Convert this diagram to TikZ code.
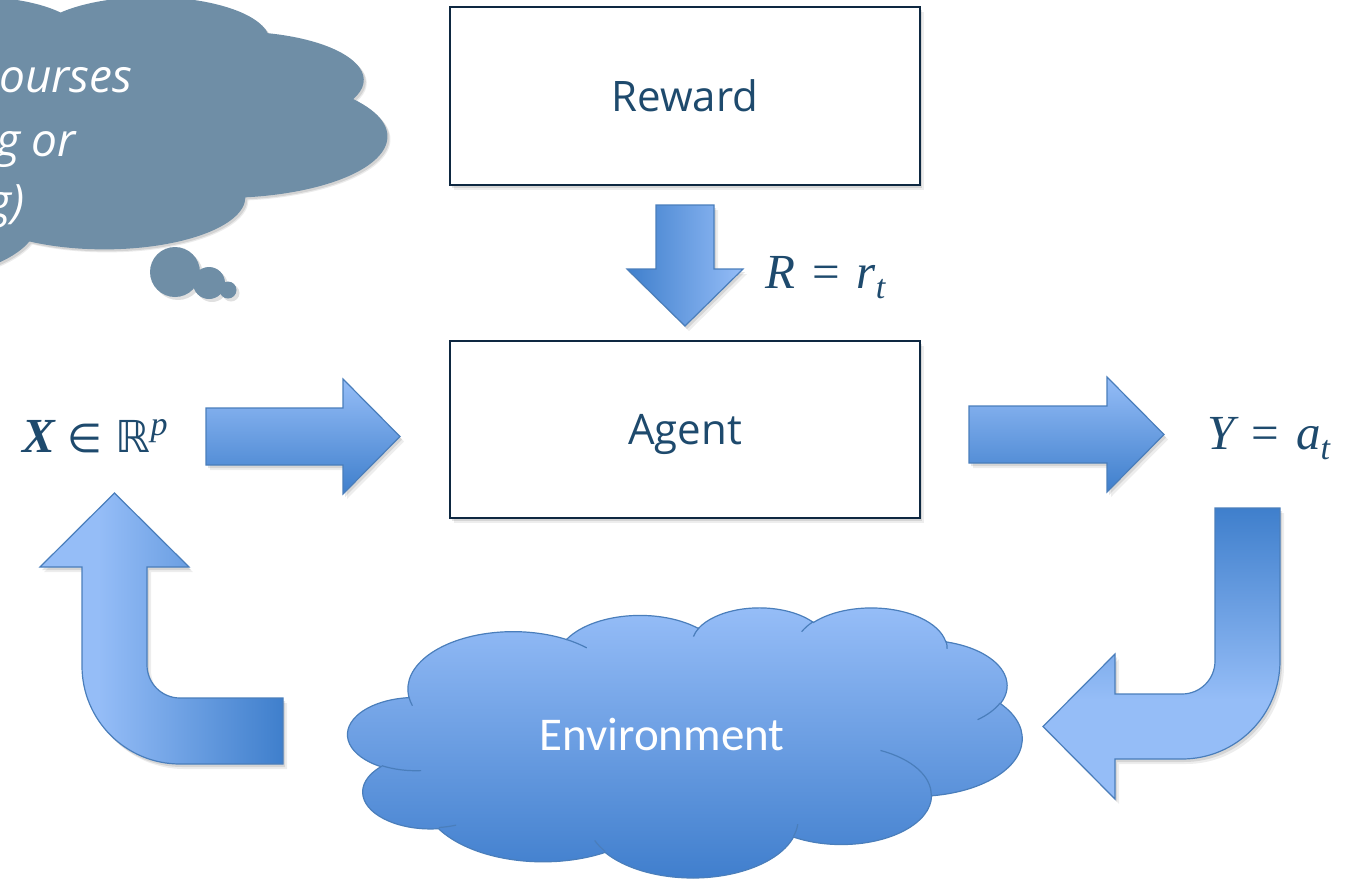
\documentclass[tikz,border=0pt]{standalone}
\usepackage{fontspec}
\setmainfont{Open Sans}
\newfontfamily\envfont{Carlito}
\newfontfamily\mfont{Liberation Serif}
\newfontfamily\symfont{DejaVu Sans}
\definecolor{arrlight}{RGB}{149,189,247}
\definecolor{arrdark}{RGB}{63,127,204}
\definecolor{arrline}{RGB}{74,126,187}
\definecolor{boxline}{RGB}{14,40,65}
\definecolor{txtblue}{RGB}{30,74,109}
\definecolor{thought}{RGB}{111,142,166}
\definecolor{envtop}{RGB}{151,190,248}
\definecolor{envbot}{RGB}{62,125,204}
\pgfdeclarehorizontalshading{luarrow}{100bp}{color(0bp)=(arrlight); color(25bp)=(arrlight); color(37bp)=(arrlight); color(75bp)=(arrdark); color(100bp)=(arrdark)}
\pgfdeclareverticalshading{ruarrow}{100bp}{color(0bp)=(arrlight); color(25bp)=(arrlight); color(42bp)=(arrlight); color(75bp)=(arrdark); color(100bp)=(arrdark)}
\newcommand{\msub}[1]{\raisebox{-10pt}{\fontsize{34}{36}\selectfont\itshape #1}}
\newcommand{\msup}[1]{\raisebox{17pt}{\fontsize{34}{36}\selectfont\itshape #1}}
\newcommand{\mrel}[1]{\hspace{17pt}{#1}\hspace{17pt}}
\tikzset{
  carc/.style n args={4}{insert path={arc[start angle={atan2((#1)*sin(#3),(#2)*cos(#3))},
     delta angle={mod(atan2((#1)*sin((#3)+(#4)),(#2)*cos((#3)+(#4)))-atan2((#1)*sin(#3),(#2)*cos(#3))+720,360)},
     x radius=#1pt, y radius=#2pt]}},
  cloudpath/.style={insert path={(390,1437)
     [carc={675.3}{919.0}{-190.4875}{123.7805}]
     [carc={533.3}{726.7}{-144.1024}{89.9452}]
     [carc={436.5}{594.5}{-145.8079}{99.7230}]
     [carc={485.7}{659.5}{-130.9861}{117.2417}]
     [carc={533.3}{727.3}{-78.7089}{109.0269}]
     [carc={677.5}{922.0}{-46.2673}{130.2690}]
     [carc={578.5}{786.7}{0.6250}{114.0333}]
     [carc={675.2}{921.5}{22.4516}{115.1726}]
     [carc={772.0}{1054.3}{66.2426}{75.7110}]
     [carc={436.0}{591.8}{-274.9421}{146.7356}]
     [carc={434.5}{594.5}{-246.8285}{152.5189}] -- cycle}},
  shadowA/.style={preaction={fill=black, opacity=0.10, transform canvas={shift={(2pt,-3pt)}}},
                  preaction={fill=black, opacity=0.07, transform canvas={shift={(4pt,-5pt)}}}},
  blockarrow/.style={draw=arrline, line width=1.2pt, line join=miter, shadowA},
  box/.style={draw=boxline, line width=1.8pt, fill=white, minimum width=470pt, inner sep=0pt,
              text height=30pt, text depth=0pt, font=\fontsize{42}{48}\selectfont, text=txtblue, shadowA},
  mathlbl/.style={font=\mfont\fontsize{49}{54}\selectfont, text=txtblue, inner sep=0pt, anchor=base west},
  thoughttxt/.style={font=\fontsize{46}{52}\selectfont\itshape, text=white, inner sep=0pt, anchor=base west},
  envtxt/.style={font=\envfont\fontsize{47}{52}\selectfont, text=white, inner sep=0pt, text height=30pt, text depth=0pt},
}
\begin{document}
\begin{tikzpicture}[x=1pt,y=1pt]
\useasboundingbox (0,0) rectangle (1345,-879);

% ---------- thought cloud (top left) ----------
\begin{scope}[shift={(-666,2)}, xscale=0.244213, yscale=-0.066667]
  \fill[black, opacity=0.10, cloudpath];
\end{scope}
\begin{scope}[shift={(-665,1)}, xscale=0.244213, yscale=-0.066667]
  \fill[black, opacity=0.08, cloudpath];
\end{scope}
\foreach \cx/\cy/\r in {175/272/25, 209/283/16, 228/290/8.5}{
  \fill[black, opacity=0.12] (\cx+3,-\cy-3) circle[radius=\r pt];
}
\begin{scope}[shift={(-668,4)}, xscale=0.244213, yscale=-0.066667]
  \fill[thought, cloudpath];
\end{scope}
\fill[thought] (175,-272) circle[radius=25pt];
\fill[thought] (209,-283) circle[radius=16pt];
\fill[thought] (228,-290) circle[radius=8.5pt];
\node[thoughttxt] (t1) at (-1,-92) {ourses};
\node[thoughttxt] (t2) at (-4,-156) {g or};
\node[thoughttxt] (t3) at (-13,-217) {g)};

% ---------- boxes ----------
\node[box, minimum height=178pt] (reward) at (685,-96) {Reward};
\node[box, minimum height=177pt] (agent) at (685,-429.5) {Agent};

% ---------- straight block arrows ----------
\draw[blockarrow, left color=arrdark, right color=arrlight]
  (656,-205) -- (714,-205) -- (714,-269) -- (743,-269) -- (685,-326) -- (627,-269) -- (656,-269) -- cycle;
\draw[blockarrow, top color=arrlight, bottom color=arrdark]
  (206,-408) -- (343,-408) -- (343,-379) -- (400,-436.5) -- (343,-494) -- (343,-465) -- (206,-465) -- cycle;
\draw[blockarrow, top color=arrlight, bottom color=arrdark]
  (969,-406) -- (1107,-406) -- (1107,-377) -- (1164,-434.5) -- (1107,-492) -- (1107,-463) -- (969,-463) -- cycle;

% ---------- U-turn arrows ----------
\draw[blockarrow, shading=luarrow]
  (114.5,-493) -- (189,-567) -- (147,-567) -- (147,-665)
  arc[start angle=180, end angle=270, radius=33pt] -- (283,-698) -- (283,-764) -- (180,-764)
  arc[start angle=270, end angle=180, radius=98pt] -- (82,-567) -- (40,-567) -- cycle;
\draw[blockarrow, shading=ruarrow]
  (1215,-508) -- (1280,-508) -- (1280,-661)
  arc[start angle=0, end angle=-90, radius=98pt] -- (1115,-759) -- (1115,-799) -- (1043,-726.5)
  -- (1115,-654) -- (1115,-694) -- (1182,-694)
  arc[start angle=270, end angle=360, radius=33pt] -- cycle;

% ---------- environment cloud ----------
\begin{scope}[shift={(348,-607)}, xscale=0.156019, yscale=-0.0625]
  \draw[draw=arrline, line width=1.2pt, top color=envtop, bottom color=envbot, cloudpath];
  \draw[draw=arrline, line width=1.2pt]
    (469.3,2617.7) [carc={434.5}{594.5}{86.742}{26.430}]
    (692.8,3489.9) [carc={436.0}{591.8}{73.610}{11.447}]
    (1647.8,3909.0) [carc={675.2}{921.5}{137.624}{14.081}]
    (2882.7,3475.1) [carc={675.2}{921.5}{6.462}{15.995}]
    (3412.9,2295.4) [carc={578.5}{786.7}{-70.292}{70.917}]
    (4179.8,1535.4) [carc={533.3}{727.3}{30.318}{27.752}]
    (3832.4,542.6) [carc={485.7}{659.5}{-13.744}{14.855}]
    (2907.8,395.2) [carc={485.7}{659.5}{-149.181}{18.196}]
    (2214.1,472.0) [carc={436.5}{594.5}{-163.494}{17.686}]
    (1400.0,519.2) [carc={675.3}{919.0}{-66.707}{12.319}]
    (412.7,1578.9) [carc={675.3}{919.0}{157.654}{11.858}];
\end{scope}
\node[envtxt] (env) at (662,-735) {Environment};

% ---------- math labels ----------
\node[mathlbl] (rlab) at (765,-288) {\itshape R\mrel{\upshape =}r\msub{t}};
\node[mathlbl] (xlab) at (22,-452) {{\bfseries\itshape X}\hspace{13pt}{\symfont\fontsize{40}{44}\selectfont ∈}\hspace{13pt}{\symfont\fontsize{44}{48}\selectfont ℝ}\msup{p}};
\node[mathlbl] (ylab) at (1207,-449) {\itshape Y\mrel{\upshape =}a\msub{t}};
\end{tikzpicture}
\end{document}
